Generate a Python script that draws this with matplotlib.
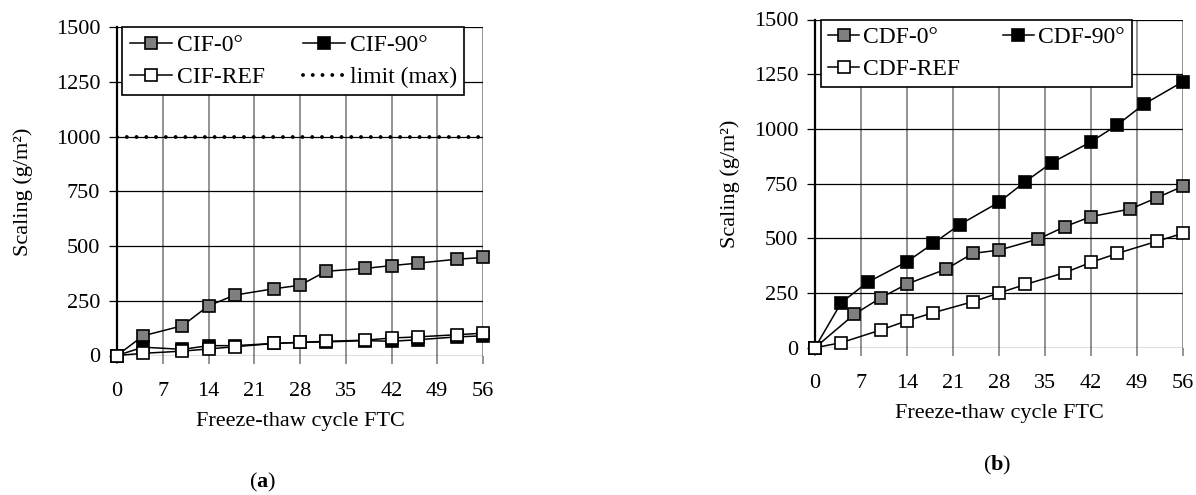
import matplotlib
matplotlib.use("Agg")
import matplotlib.pyplot as plt
from matplotlib.ticker import MultipleLocator

plt.rcParams['font.family'] = ['Liberation Serif', 'DejaVu Serif']
plt.rcParams['font.size'] = 16
plt.rcParams['mathtext.fontset'] = 'custom'
plt.rcParams['mathtext.rm'] = 'Liberation Serif'
plt.rcParams['mathtext.bf'] = 'Liberation Serif:bold'

# ===== data (a) CIF =====
cif_x = [0, 4, 10, 14, 18, 24, 28, 32, 38, 42, 46, 52, 56]
cif_0 = [0, 90, 136, 227, 276, 305, 321, 385, 398, 411, 422, 440, 448]
cif_90 = [0, 38, 28, 45, 45, 55, 60, 62, 68, 65, 72, 85, 90]
cif_ref = [0, 10, 20, 30, 40, 55, 60, 65, 70, 80, 85, 95, 102]
cif_limit = 1000

# ===== data (b) CDF =====
cdf90_x = [0, 4, 8, 14, 18, 22, 28, 32, 36, 42, 46, 50, 56]
cdf_90 = [0, 206, 299, 393, 477, 562, 665, 759, 845, 941, 1018, 1112, 1216]
cdf0_x = [0, 6, 10, 14, 20, 24, 28, 34, 38, 42, 48, 52, 56]
cdf_0 = [0, 153, 228, 291, 360, 431, 446, 497, 553, 599, 634, 685, 738]
cdfref_x = [0, 4, 10, 14, 18, 24, 28, 32, 38, 42, 46, 52, 56]
cdf_ref = [0, 23, 81, 123, 160, 210, 250, 289, 343, 390, 431, 486, 523]

xticks = [0, 7, 14, 21, 28, 35, 42, 49, 56]

fig = plt.figure(figsize=(11.96, 4.95), dpi=100)
ax1 = fig.add_axes([117/1196, 1 - 355.5/495, 366/1196, 328.2/495])
ax2 = fig.add_axes([815/1196, 1 - 347.7/495, 368/1196, 328.2/495])

mk = dict(marker='s', markersize=8.5, markeredgecolor='black',
          markeredgewidth=1.2, color='black', linewidth=1.1,
          clip_on=False, zorder=4)


def style(ax):
    ax.set_xlim(0, 56)
    ax.set_ylim(0, 1500)
    ax.set_xticks(xticks)
    ax.yaxis.set_major_locator(MultipleLocator(250))
    ax.set_axisbelow(True)
    ax.xaxis.grid(True, color='#808080', linewidth=1.2)
    ax.yaxis.grid(True, color='black', linewidth=0.9)
    for s in ['top', 'right', 'bottom']:
        ax.spines[s].set_visible(False)
    ax.spines['left'].set_linewidth(1.6)
    ax.tick_params(axis='x', direction='out', length=6, width=1.2,
                   color='#808080', pad=13)
    ax.tick_params(axis='y', direction='out', length=6, width=0.9,
                   color='black', pad=6)
    ax.set_ylabel('Scaling (g/m²)', fontsize=16)
    ax.set_xlabel('Freeze-thaw cycle FTC', fontsize=16, labelpad=8)


# ===== (a) =====
style(ax1)
l0, = ax1.plot(cif_x, cif_0, markerfacecolor='#7f7f7f', label='CIF-0°', **mk)
l90, = ax1.plot(cif_x, cif_90, markerfacecolor='black', label='CIF-90°', **mk)
lref, = ax1.plot(cif_x, cif_ref, markerfacecolor='white', label='CIF-REF', **mk)
llim, = ax1.plot([0, 56], [cif_limit, cif_limit], color='black', linewidth=2.8,
                 linestyle=(0, (0.01, 2.5)), dash_capstyle='round',
                 label='limit (max)', zorder=3)
leg1 = ax1.legend(handles=[l0, lref, l90, llim], ncol=2, loc='upper left',
                  bbox_to_anchor=(0.015, 1.0), frameon=True, fancybox=False,
                  edgecolor='black', framealpha=1, borderaxespad=0,
                  handlelength=1.8, handletextpad=0.2, columnspacing=1.6,
                  labelspacing=0.45, borderpad=0.3, fontsize=17)
leg1.get_frame().set_linewidth(1.2)
leg1.set_zorder(5)
ax1.yaxis.set_label_coords(-0.23, 0.5)

# ===== (b) =====
style(ax2)
m0, = ax2.plot(cdf0_x, cdf_0, markerfacecolor='#7f7f7f', label='CDF-0°', **mk)
m90, = ax2.plot(cdf90_x, cdf_90, markerfacecolor='black', label='CDF-90°', **mk)
mref, = ax2.plot(cdfref_x, cdf_ref, markerfacecolor='white', label='CDF-REF', **mk)
leg2 = ax2.legend(handles=[m0, mref, m90], ncol=2, loc='upper left',
                  bbox_to_anchor=(0.015, 1.0), frameon=True, fancybox=False,
                  edgecolor='black', framealpha=1, borderaxespad=0,
                  handlelength=1.35, handletextpad=0.15, columnspacing=1.8,
                  labelspacing=0.45, borderpad=0.3, fontsize=17)
leg2.get_frame().set_linewidth(1.2)
leg2.set_zorder(5)
ax2.yaxis.set_label_coords(-0.205, 0.5)

fig.text(263/1196, 1 - 482/495, r'($\mathbf{a}$)', ha='center', va='center',
         fontsize=16)
fig.text(997/1196, 1 - 465/495, r'($\mathbf{b}$)', ha='center', va='center',
         fontsize=16)

fig.savefig('out.png', dpi=100)
